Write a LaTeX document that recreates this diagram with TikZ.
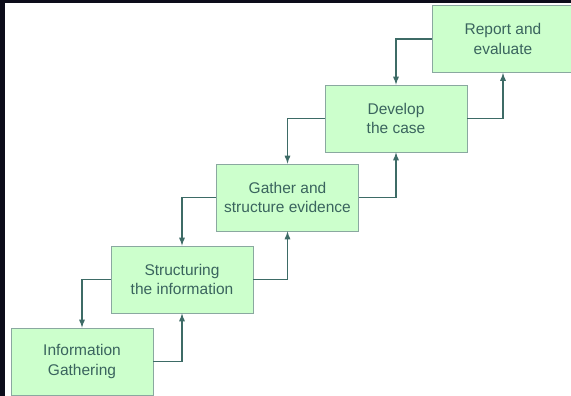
\documentclass[tikz,border=0pt]{standalone}
\usepackage{fontspec}
\setmainfont{Liberation Sans}
\definecolor{boxfill}{RGB}{204,255,204}
\definecolor{boxline}{RGB}{138,168,160}
\definecolor{linkcol}{RGB}{61,107,102}
\definecolor{txtcol}{RGB}{58,100,94}
\definecolor{frame}{RGB}{12,12,26}
\tikzset{
  stage/.style={draw=boxline, line width=.8pt, fill=boxfill, text=txtcol,
    minimum width=142pt, minimum height=67pt, align=center,
    font=\fontsize{15.5}{19.5}\selectfont, inner sep=0pt},
  link/.style={->, draw=linkcol, line width=1.7pt}
}
\begin{document}
\begin{tikzpicture}[>=latex, x=1pt, y=-1pt]
        \useasboundingbox (0,0) rectangle (571,396);
        \fill[frame] (0,0) rectangle (571,396);
        \fill[white] (5,3) rectangle (571,396);
        \begin{scope}
        \clip (5,3) rectangle (571,396);
        \node[stage] (gathering) at (82,361.5) {Information\\Gathering};
        \node[stage] (structuring) at (182,279.5) {Structuring\\the information};
        \node[stage] (evidence) at (287.5,197.5) {Gather and\\structure evidence};
        \node[stage] (develop) at (396,118.5) {Develop\\the case};
        \node[stage] (report) at (503,39) {Report and\\evaluate};
        % upward links
        \draw[link] (gathering.east) -| (structuring.south);
        \draw[link] (structuring.east) -| (evidence.south);
        \draw[link] (evidence.east) -| (develop.south);
        \draw[link] (develop.east) -| (report.south);
        % downward links
        \draw[link] (report.west) -| (develop.north);
        \draw[link] (develop.west) -| (evidence.north);
        \draw[link] (evidence.west) -| (structuring.north);
        \draw[link] (structuring.west) -| (gathering.north);
        \end{scope}
    \end{tikzpicture}
\end{document}
